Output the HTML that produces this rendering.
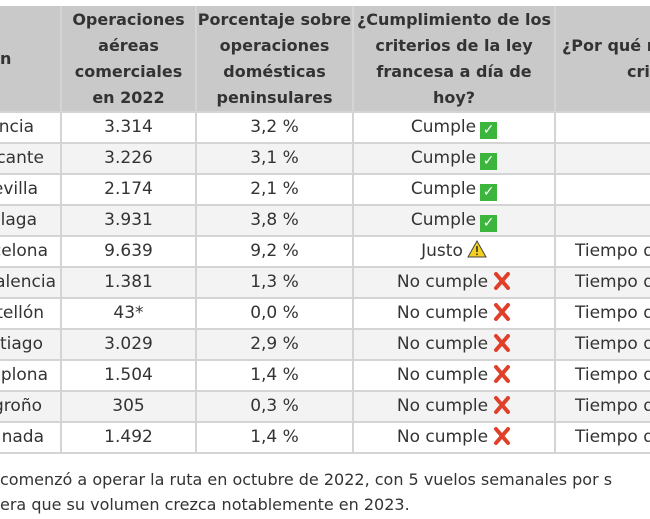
<!DOCTYPE html>
<html><head><meta charset="utf-8"><style>
body{margin:0;width:650px;height:519px;overflow:hidden;background:#fff;font-family:"DejaVu Sans","Liberation Sans",sans-serif;color:#333;position:relative}
.h{position:absolute;top:6px;height:106px;background:#c9c9c9}
.hd{position:absolute;font-weight:bold;font-size:16px;color:#333;text-align:center;line-height:26px;white-space:nowrap}
.row{position:absolute;left:0;width:650px;height:31px}
.vl{position:absolute;top:6px;height:448px;width:2px;background:#d4d4d4}
.hl{position:absolute;left:0;width:650px;height:2px;background:#d4d4d4}
.c{position:absolute;font-size:17px;line-height:31px;height:31px;text-align:center;white-space:nowrap}
.n{position:absolute;left:0;font-size:17px;line-height:31px;text-align:right;white-space:nowrap;overflow:hidden;direction:rtl}
.ok{display:inline-block;width:17px;height:17px;background:#3cb53c;color:#fff;font-size:14px;line-height:17px;vertical-align:-2px;margin-left:4px;font-weight:bold;text-align:center}
.x{display:inline-block;margin-left:5px;vertical-align:-3px}
.w{display:inline-block;margin-left:4px;vertical-align:-2px}
.f{position:absolute;left:0;font-size:16px;white-space:nowrap}
</style></head><body>
<svg width="0" height="0" style="position:absolute"><defs><symbol id="X" viewBox="0 0 18 18"><path d="M3 2 L15 16 M15 2 L3 16" stroke="#e0402a" stroke-width="4" stroke-linecap="round"/></symbol></defs></svg>
<div class="h" style="left:0;width:650px"></div>
<div class="hd" style="left:0;width:14px;top:46px;text-align:left">n</div>
<div class="hd" style="left:61px;width:135px;top:7px">Operaciones<br>aéreas<br>comerciales<br>en 2022</div>
<div class="hd" style="left:196px;width:157px;top:7px">Porcentaje sobre<br>operaciones<br>domésticas<br>peninsulares</div>
<div class="hd" style="left:353px;width:202px;top:7px">¿Cumplimiento de los<br>criterios de la ley<br>francesa a día de<br>hoy?</div>
<div class="hd" style="left:562px;top:33px;text-align:left">¿Por qué n<br><span style="margin-left:65px">crit</span></div>

<div class="row" style="top:112px;background:#fff"></div>
<div class="row" style="top:143px;background:#f3f3f3"></div>
<div class="row" style="top:174px;background:#fff"></div>
<div class="row" style="top:205px;background:#f3f3f3"></div>
<div class="row" style="top:236px;background:#fff"></div>
<div class="row" style="top:267px;background:#f3f3f3"></div>
<div class="row" style="top:298px;background:#fff"></div>
<div class="row" style="top:329px;background:#f3f3f3"></div>
<div class="row" style="top:360px;background:#fff"></div>
<div class="row" style="top:391px;background:#f3f3f3"></div>
<div class="row" style="top:422px;background:#fff"></div>

<div class="hl" style="top:111px"></div><div class="hl" style="top:142px"></div><div class="hl" style="top:173px"></div><div class="hl" style="top:204px"></div><div class="hl" style="top:235px"></div><div class="hl" style="top:266px"></div><div class="hl" style="top:297px"></div><div class="hl" style="top:328px"></div><div class="hl" style="top:359px"></div><div class="hl" style="top:390px"></div><div class="hl" style="top:421px"></div><div class="hl" style="top:452px"></div>
<div class="vl" style="left:60px"></div><div class="vl" style="left:195px"></div><div class="vl" style="left:352px"></div><div class="vl" style="left:554px"></div>

<div class="n" style="top:112px;width:34px">Valencia</div>
<div class="n" style="top:143px;width:44px">Alicante</div>
<div class="n" style="top:174px;width:38px">Sevilla</div>
<div class="n" style="top:205px;width:37px">Málaga</div>
<div class="n" style="top:236px;width:48px">Barcelona</div>
<div class="n" style="top:267px;width:56px">Valencia</div>
<div class="n" style="top:298px;width:44px">Castellón</div>
<div class="n" style="top:329px;width:43px">Santiago</div>
<div class="n" style="top:360px;width:48px">Pamplona</div>
<div class="n" style="top:391px;width:42px">Logroño</div>
<div class="n" style="top:422px;width:44px">Granada</div>

<div class="c" style="left:61px;width:135px;top:112px">3.314</div>
<div class="c" style="left:61px;width:135px;top:143px">3.226</div>
<div class="c" style="left:61px;width:135px;top:174px">2.174</div>
<div class="c" style="left:61px;width:135px;top:205px">3.931</div>
<div class="c" style="left:61px;width:135px;top:236px">9.639</div>
<div class="c" style="left:61px;width:135px;top:267px">1.381</div>
<div class="c" style="left:61px;width:135px;top:298px">43*</div>
<div class="c" style="left:61px;width:135px;top:329px">3.029</div>
<div class="c" style="left:61px;width:135px;top:360px">1.504</div>
<div class="c" style="left:61px;width:135px;top:391px">305</div>
<div class="c" style="left:61px;width:135px;top:422px">1.492</div>

<div class="c" style="left:196px;width:157px;top:112px">3,2 %</div>
<div class="c" style="left:196px;width:157px;top:143px">3,1 %</div>
<div class="c" style="left:196px;width:157px;top:174px">2,1 %</div>
<div class="c" style="left:196px;width:157px;top:205px">3,8 %</div>
<div class="c" style="left:196px;width:157px;top:236px">9,2 %</div>
<div class="c" style="left:196px;width:157px;top:267px">1,3 %</div>
<div class="c" style="left:196px;width:157px;top:298px">0,0 %</div>
<div class="c" style="left:196px;width:157px;top:329px">2,9 %</div>
<div class="c" style="left:196px;width:157px;top:360px">1,4 %</div>
<div class="c" style="left:196px;width:157px;top:391px">0,3 %</div>
<div class="c" style="left:196px;width:157px;top:422px">1,4 %</div>

<div class="c" style="left:353px;width:202px;top:112px">Cumple<span class="ok">✓</span></div>
<div class="c" style="left:353px;width:202px;top:143px">Cumple<span class="ok">✓</span></div>
<div class="c" style="left:353px;width:202px;top:174px">Cumple<span class="ok">✓</span></div>
<div class="c" style="left:353px;width:202px;top:205px">Cumple<span class="ok">✓</span></div>
<div class="c" style="left:353px;width:202px;top:236px">Justo<svg class="w" width="20" height="18" viewBox="0 0 20 18"><path d="M10 1 L19 17 L1 17 Z" fill="#f5d020" stroke="#444" stroke-width="1"/><rect x="9.2" y="6" width="1.6" height="6" fill="#333"/><rect x="9.2" y="13.5" width="1.6" height="1.6" fill="#333"/></svg></div>
<div class="c" style="left:353px;width:202px;top:267px">No cumple<svg class="x" width="18" height="18"><use href="#X"/></svg></div>
<div class="c" style="left:353px;width:202px;top:298px">No cumple<svg class="x" width="18" height="18"><use href="#X"/></svg></div>
<div class="c" style="left:353px;width:202px;top:329px">No cumple<svg class="x" width="18" height="18"><use href="#X"/></svg></div>
<div class="c" style="left:353px;width:202px;top:360px">No cumple<svg class="x" width="18" height="18"><use href="#X"/></svg></div>
<div class="c" style="left:353px;width:202px;top:391px">No cumple<svg class="x" width="18" height="18"><use href="#X"/></svg></div>
<div class="c" style="left:353px;width:202px;top:422px">No cumple<svg class="x" width="18" height="18"><use href="#X"/></svg></div>

<div class="c" style="left:575px;top:236px;text-align:left">Tiempo de</div>
<div class="c" style="left:575px;top:267px;text-align:left">Tiempo de</div>
<div class="c" style="left:575px;top:298px;text-align:left">Tiempo de</div>
<div class="c" style="left:575px;top:329px;text-align:left">Tiempo de</div>
<div class="c" style="left:575px;top:360px;text-align:left">Tiempo de</div>
<div class="c" style="left:575px;top:391px;text-align:left">Tiempo de</div>
<div class="c" style="left:575px;top:422px;text-align:left">Tiempo de</div>

<div class="f" style="top:470px">comenzó a operar la ruta en octubre de 2022, con 5 vuelos semanales por s</div>
<div class="f" style="top:495px">era que su volumen crezca notablemente en 2023.</div>
</body></html>
